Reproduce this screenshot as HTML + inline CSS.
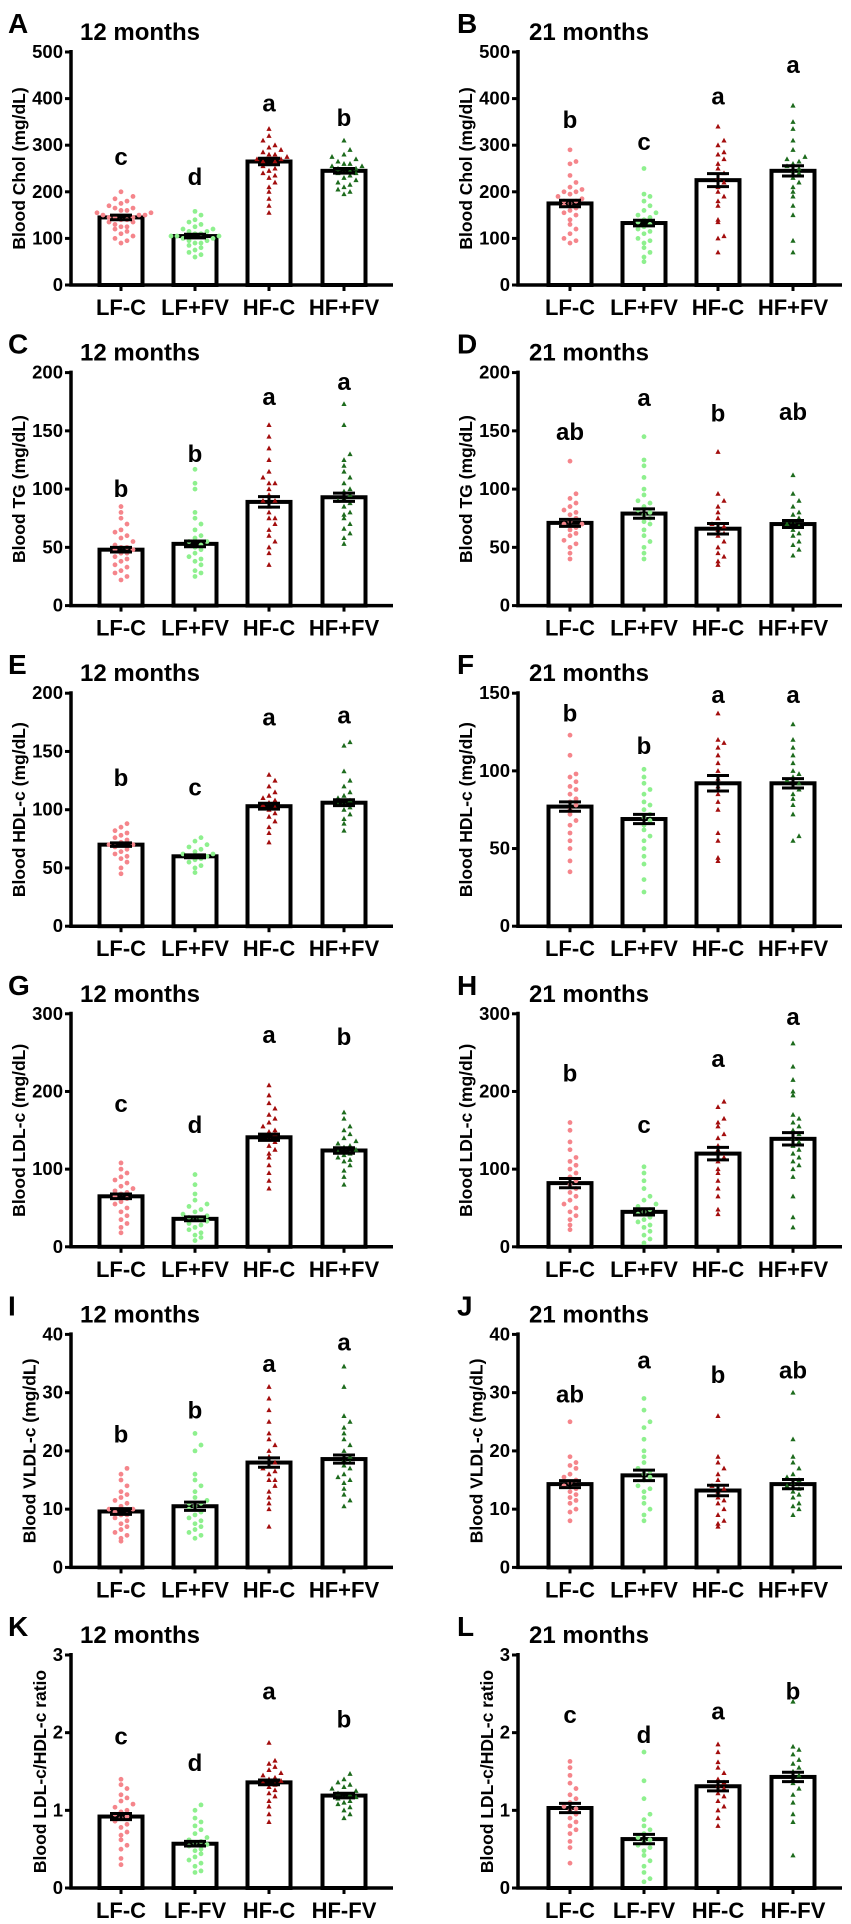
<!DOCTYPE html>
<html><head><meta charset="utf-8"><style>
html,body{margin:0;padding:0;background:#fff;}
svg{display:block;font-family:"Liberation Sans",Arial,sans-serif;font-weight:bold;}
</style></head><body>
<svg id="fig" width="851" height="1924" viewBox="0 0 851 1924" xmlns="http://www.w3.org/2000/svg"></svg>
<script>
// ---- data ----
const panelLetters = ["A","B","C","D","E","F","G","H","I","J","K","L"];
const panelTitles = ["12 months","21 months","12 months","21 months","12 months","21 months","12 months","21 months","12 months","21 months","12 months","21 months"];
const yTitles = ["Blood Chol (mg/dL)","Blood Chol (mg/dL)","Blood TG (mg/dL)","Blood TG (mg/dL)","Blood HDL-c (mg/dL)","Blood HDL-c (mg/dL)","Blood LDL-c (mg/dL)","Blood LDL-c (mg/dL)","Blood VLDL-c (mg/dL)","Blood VLDL-c (mg/dL)","Blood LDL-c/HDL-c ratio","Blood LDL-c/HDL-c ratio"];
const yMax = [500,500,200,200,200,150,300,300,40,40,3,3];
const yTicks = [[0,100,200,300,400,500],[0,100,200,300,400,500],[0,50,100,150,200],[0,50,100,150,200],[0,50,100,150,200],[0,50,100,150],[0,100,200,300],[0,100,200,300],[0,10,20,30,40],[0,10,20,30,40],[0,1,2,3],[0,1,2,3]];
const groupsPlus = ["LF-C","LF+FV","HF-C","HF+FV"];
const groupsDash = ["LF-C","LF-FV","HF-C","HF-FV"];
const means = [[145,105,265,245],[175,133,225,245],[48,53,89,93],[71,79,66,70],[70,60,103,106],[77,69,92,92],[65,36,141,124],[82,45,120,139],[9.6,10.5,18,18.6],[14.3,15.8,13.2,14.3],[0.92,0.57,1.36,1.19],[1.03,0.63,1.31,1.43]];
const sems = [[5,4,7,5],[7,6,14,11],[2,2.5,4.5,3.5],[3,4,4.5,3],[1.5,1.2,2.5,2.5],[3,3,5,3],[3,2.5,4,3.5],[6,4,8,8],[0.5,0.7,0.8,0.7],[0.6,0.9,0.9,0.8],[0.04,0.03,0.03,0.03],[0.06,0.06,0.06,0.06]];
const sigLetters = [["c","d","a","b"],["b","c","a","a"],["b","b","a","a"],["ab","a","b","ab"],["b","c","a","a"],["b","b","a","a"],["c","d","a","b"],["b","c","a","a"],["b","b","a","a"],["ab","a","b","ab"],["c","d","a","b"],["c","d","a","b"]];
const sigLevels = [[275,232,390,358],[354,307,404,472],[100,130,179,192],[149,178,165,166],[127,119,179,181],[137,116,149,149],[184,157,273,270],[223,157,242,296],[22.8,26.9,34.9,38.6],[29.7,35.5,33,33.8],[1.95,1.61,2.53,2.17],[2.23,1.97,2.27,2.53]];
const ptsA = [[90,95,100,105,110,115,120,125,125,130,135,135,140,140,145,145,145,150,150,150,155,155,160,160,165,165,170,175,180,185,190,200],[60,65,70,75,80,85,90,90,95,95,100,100,105,105,105,110,110,115,115,120,120,125,130,135,140,150,158],[155,170,185,200,210,220,230,235,240,245,250,255,260,265,265,270,270,275,280,280,285,290,295,300,310,320,335],[195,200,205,210,215,220,225,230,235,240,240,245,245,250,250,255,255,260,260,265,270,275,280,290,310]];
const ptsB = [[90,95,100,110,120,130,140,150,155,160,165,170,175,180,180,185,190,195,200,200,205,210,220,235,260,265,290],[50,60,70,80,90,95,100,110,115,120,125,130,135,140,145,150,155,160,170,180,190,195,250],[70,100,105,135,140,170,180,190,200,210,220,230,240,250,260,270,280,285,300,310,340],[70,95,150,170,190,200,210,220,230,240,245,250,255,260,265,270,275,290,310,335,350,385]];
const ptsC = [[22,25,28,30,33,35,38,40,42,45,45,48,48,50,50,52,55,58,60,63,65,70,75,80,85],[25,28,30,35,38,40,42,45,48,50,52,55,55,58,60,65,70,75,80,100,105,117],[35,45,50,55,60,65,70,75,75,80,85,90,90,95,100,105,105,110,115,125,135,145,155],[53,58,62,66,70,75,78,80,85,88,90,92,95,98,100,105,110,115,120,125,130,155,173]];
const ptsD = [[40,45,50,53,56,60,62,65,67,70,70,72,75,78,80,82,85,88,92,96,124],[40,45,50,55,60,65,70,72,75,78,80,82,85,88,90,95,100,110,120,125,145],[35,38,42,45,50,55,60,62,65,68,70,75,80,85,90,96,132],[43,48,52,55,60,62,65,68,70,72,75,78,80,85,90,96,112]];
const ptsE = [[45,50,55,58,60,62,64,66,68,70,70,72,74,76,78,80,82,85,88],[46,50,52,55,57,58,60,60,62,62,64,66,68,70,73,76],[72,80,85,90,94,97,100,102,104,106,108,110,112,115,120,125,130],[82,88,92,96,100,102,104,106,108,110,112,115,120,125,133,155,158]];
const ptsF = [[35,42,50,55,60,65,68,72,75,78,80,82,85,88,90,93,96,98,110,123],[22,30,40,45,50,55,58,62,65,68,70,72,75,78,80,85,88,92,96,101],[42,44,55,60,75,80,85,90,95,100,105,110,115,118,120,137],[55,58,72,78,82,85,88,90,92,94,96,98,100,105,110,115,120,130]];
const ptsG = [[18,25,30,35,40,45,50,55,58,62,65,68,70,72,75,78,82,86,90,95,100,108],[8,12,15,18,22,25,28,30,33,35,36,38,40,42,45,48,52,55,60,68,80,93],[75,85,95,105,115,120,125,130,135,140,145,148,150,155,160,165,170,178,185,195,208],[80,90,98,105,110,112,115,118,120,122,125,128,130,133,136,140,145,150,155,165,173]];
const ptsH = [[22,28,35,40,45,50,55,60,65,70,75,80,85,90,95,100,105,110,115,125,135,150,160],[2,5,10,15,20,25,28,32,35,38,42,45,48,52,55,60,65,75,85,95,103],[42,48,65,75,85,95,100,110,115,125,130,140,145,155,160,165,180,187],[25,38,65,90,100,105,110,115,120,125,130,135,140,145,150,155,160,165,170,195,200,215,232,262]];
const ptsI = [[4.5,5,5.5,6,6.5,7,7.5,8,8.5,9,9,9.5,10,10,10.5,11,11.5,12,12.5,13,14,15,16,17],[5,5.5,6,6.5,7,7.5,8,8.5,9,9.5,10,10.5,11,11,11.5,12,13,14,15,16,20,21,23],[7,10,11,12,13,14,15,15,16,16.5,17,17.5,18,19,20,21,22,23,25,27,29,31],[10.5,11.5,12.5,13.5,14.5,15,15.5,16,17,17.5,18,18.5,19,20,21,22,23,24,25,26,31,34.5]];
const ptsJ = [[8,9.5,10,11,11.5,12,12.5,13,13.5,14,14.5,15,15.5,16,17,17.5,18,19,25],[8,9,10,11,12,13,13.5,14,15,15.5,16,16.5,17,18,19,20,22,24,25,27,29],[7,7.5,8,9,10,11,11.5,12,13,13.5,14,15,16,17,18,19,26],[9,10,10.5,11,12,12.5,13,13.5,14,14.5,15,15.5,16,17,18,19,22,30]];
const ptsK = [[0.3,0.38,0.5,0.55,0.62,0.68,0.72,0.78,0.82,0.86,0.9,0.92,0.95,0.98,1.0,1.04,1.08,1.12,1.16,1.2,1.28,1.33,1.4],[0.2,0.22,0.28,0.32,0.36,0.4,0.44,0.48,0.5,0.54,0.56,0.58,0.6,0.62,0.65,0.7,0.75,0.8,0.85,0.9,1.0,1.07],[0.85,0.95,1.05,1.12,1.18,1.22,1.26,1.3,1.33,1.36,1.38,1.4,1.42,1.45,1.48,1.52,1.56,1.6,1.64,1.87],[0.9,0.95,1.0,1.04,1.08,1.1,1.12,1.15,1.17,1.19,1.2,1.22,1.25,1.28,1.3,1.33,1.36,1.4,1.47]];
const ptsL = [[0.32,0.52,0.6,0.7,0.75,0.8,0.85,0.9,0.95,1.0,1.02,1.05,1.1,1.15,1.2,1.28,1.35,1.45,1.55,1.63],[0.08,0.12,0.2,0.28,0.35,0.42,0.48,0.52,0.55,0.6,0.62,0.65,0.7,0.75,0.8,0.88,0.95,1.15,1.38,1.75],[0.8,0.9,1.0,1.05,1.12,1.18,1.22,1.28,1.32,1.36,1.4,1.48,1.55,1.62,1.75,1.85],[0.42,0.85,0.95,1.1,1.2,1.28,1.35,1.4,1.45,1.5,1.55,1.6,1.65,1.72,1.78,1.82,2.4]];
const allPoints = [ptsA,ptsB,ptsC,ptsD,ptsE,ptsF,ptsG,ptsH,ptsI,ptsJ,ptsK,ptsL];

// ---- drawing ----
const NS = "http://www.w3.org/2000/svg";
const svg = document.getElementById("fig");
const colors = ["#f5858b","#8ef08e","#a30d0d","#1d6b1d"];
const slugs = ["lf-c","lf-fv","hf-c","hf-fv"];
function mk(tag, attrs, parent){ const e=document.createElementNS(NS,tag); for(const k in attrs) e.setAttribute(k,attrs[k]); (parent||svg).appendChild(e); return e; }

for (let p=0;p<12;p++){
  const col=p%2, row=Math.floor(p/2);
  const ox = col*449, oy = row*320.6;
  const ax = 71+ox - (col?2:0), axEnd = 393+ox;
  const yb = 285+oy, yt = 52+oy;
  const ys = v => yb - v/yMax[p]*(yb-yt);
  const centers = [121,195,269,344].map(c=>c+ox);
  const g = mk("g",{});
  
  

  let t = mk("text",{x:8+ox,y:33+oy,"font-size":28},g); t.textContent=panelLetters[p];
  
  
  t = mk("text",{x:80+ox,y:40+oy,"font-size":24},g); t.textContent=panelTitles[p];
  
  

  const maxLen = String(yTicks[p][yTicks[p].length-1]).length;
  yTicks[p].forEach(v=>{
    const y=ys(v);
    mk("line",{x1:ax-6,x2:ax,y1:y,y2:y,stroke:"#000","stroke-width":3},g);
    const tl=mk("text",{x:ax-8,y:y+6,"font-size":18.5,"text-anchor":"end"},g); tl.textContent=v;
    
    
  });
  const tx = ax-8-maxLen*10.5-11;
  const ty = (yb+yt)/2;
  t = mk("text",{x:tx,y:ty,"font-size":17.5,"text-anchor":"middle",transform:`rotate(-90 ${tx} ${ty})`,"dominant-baseline":"middle"},g);
  t.textContent=yTitles[p];
  
  

  const names = p>=10 ? groupsDash : groupsPlus;
  for (let i=0;i<4;i++){
    const cx=centers[i], m=means[p][i];
    const bar = mk("rect",{x:cx-21.5,y:ys(m),width:43,height:yb-ys(m),fill:"#fff",stroke:"#000","stroke-width":4},g);
    
    
    const bins={};
    allPoints[p][i].forEach(v=>{
      const y=ys(v); const b=Math.round(y/8);
      bins[b]=(bins[b]||0)+1; const k=bins[b]-1;
      const off = k===0?0:(k%2? 1:-1)*Math.ceil(k/2)*6;
      let pt;
      if(i<2){ pt=mk("circle",{cx:cx+off,cy:y,r:2.4,fill:colors[i]},g); }
      else { const x=cx+off; pt=mk("polygon",{points:`${x},${y-2.8} ${x+2.6},${y+2} ${x-2.6},${y+2}`,fill:colors[i]},g); }
      
      
    });
    const s=sems[p][i];
    const eb = mk("path",{d:`M${cx},${ys(m-s)}V${ys(m+s)}M${cx-11},${ys(m+s)}H${cx+11}M${cx-11},${ys(m-s)}H${cx+11}`,stroke:"#000","stroke-width":3,fill:"none"},g);
    
    
    const sl=mk("text",{x:cx,y:ys(sigLevels[p][i])+8,"font-size":24,"text-anchor":"middle"},g); sl.textContent=sigLetters[p][i];
    
    
    mk("line",{x1:cx,x2:cx,y1:yb,y2:yb+6,stroke:"#000","stroke-width":3},g);
    const xl=mk("text",{x:cx,y:yb+30,"font-size":22,"text-anchor":"middle"},g); xl.textContent=names[i];
    
    
  }
  const axes = mk("path",{d:`M${ax},${yt-2}V${yb}H${axEnd}`,stroke:"#000","stroke-width":3.5,fill:"none"},g);
  
  
}
</script>
</body></html>
